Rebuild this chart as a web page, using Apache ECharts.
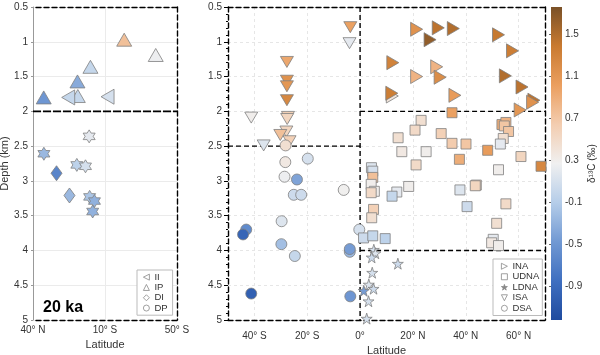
<!DOCTYPE html>
<html>
<head>
<meta charset="utf-8">
<script src="https://cdn.jsdelivr.net/npm/echarts@6.0.0/dist/echarts.min.js"></script>
<style>
  html, body { margin: 0; padding: 0; background: #fff; }
  #chart { width: 600px; height: 355px; }
</style>
</head>
<body>
<div id="chart"></div>
<script>
// each point: [latitude (N positive), depth km, d13C permil]
// left panel (intermediate / deep water masses)
const II = [[18.0, 1.80, 0.0], [-6.6, 1.79, 0.1]];
const IP = [[-17.0, 0.97, 0.75], [-36.7, 1.19, 0.25], [4.1, 1.36, 0.0], [12.2, 1.57, -0.35],
            [33.3, 1.80, -0.5], [12.0, 1.78, 0.0]];
const DI = [[25.3, 2.89, -0.65], [17.2, 3.21, -0.25]];
const DP = [[4.9, 2.36, 0.2], [33.2, 2.61, -0.25], [12.6, 2.77, -0.05], [7.2, 2.79, 0.1],
            [4.6, 3.23, -0.15], [1.6, 3.29, -0.3], [2.7, 3.44, -0.3]];

// right panel (Atlantic)
const INA = [[21.4, 0.82, 1.15], [29.6, 0.80, 1.45], [35.3, 0.81, 1.5], [26.5, 0.97, 1.65],
             [52.4, 0.90, 1.4], [57.7, 1.13, 1.35], [12.4, 1.30, 1.3], [29.0, 1.36, 0.85],
             [21.4, 1.50, 0.85], [30.3, 1.51, 1.2], [55.0, 1.49, 1.5], [61.3, 1.65, 1.45],
             [12.2, 1.78, 0.4], [12.0, 1.74, 1.35], [35.9, 1.77, 1.05], [65.8, 1.84, 1.45],
             [65.3, 1.87, 1.15], [60.6, 1.98, 1.1]];
const UDNA = [[34.8, 2.02, 1.0], [23.1, 2.13, 0.45], [20.8, 2.27, 0.5], [14.4, 2.38, 0.45],
              [30.7, 2.32, 0.6], [34.8, 2.46, 0.65], [40.1, 2.47, 0.7], [15.8, 2.58, 0.35],
              [25.0, 2.58, 0.3], [48.3, 2.56, 1.05], [37.6, 2.69, 0.9], [60.9, 2.65, 0.55],
              [21.2, 2.77, 0.5], [68.5, 2.79, 1.25], [52.4, 2.84, 0.3], [4.3, 2.81, 0.15],
              [4.8, 2.86, 0.1], [4.8, 2.95, 0.75], [4.2, 3.05, 0.3], [5.4, 3.15, 0.3],
              [4.2, 3.17, 0.5], [18.4, 3.08, 0.3], [13.9, 3.16, 0.2], [12.1, 3.22, 0.0],
              [5.1, 3.41, 0.6], [4.4, 3.53, 0.45], [1.3, 3.82, 0.05], [4.8, 3.79, 0.0],
              [9.5, 3.83, -0.05], [53.7, 2.19, 0.9], [55.2, 2.16, 0.85], [54.6, 2.21, 0.7],
              [56.2, 2.29, 0.7], [54.2, 2.39, 0.45], [53.1, 2.47, 0.2], [44.0, 3.06, 0.55],
              [43.6, 3.07, 0.55], [37.8, 3.13, 0.15], [40.5, 3.37, 0.05], [55.2, 3.33, 0.5],
              [51.7, 3.61, 0.45], [50.4, 3.84, 0.2], [49.8, 3.89, 0.35], [52.4, 3.93, 0.3]];
const LDNA = [[5.2, 3.99, 0.1], [5.8, 4.04, 0.15], [4.4, 4.10, 0.05], [14.3, 4.19, 0.05],
              [4.6, 4.32, 0.1], [3.3, 4.49, 0.15], [5.1, 4.55, 0.05], [1.4, 4.58, -0.45],
              [3.2, 4.73, 0.1], [2.5, 4.98, 0.1]];
const ISA = [[-3.7, 0.79, 1.0], [-4.0, 1.02, 0.2], [-27.7, 1.29, 0.95], [-27.7, 1.56, 1.15],
             [-27.7, 1.64, 1.1], [-27.7, 1.84, 1.25], [-41.2, 2.09, 0.3], [-27.3, 2.08, 0.6],
             [-27.6, 2.11, 0.55], [-27.9, 2.29, 0.55], [-30.2, 2.34, 0.75], [-26.7, 2.43, 0.6],
             [-36.5, 2.49, 0.15]];
const DSA = [[-28.2, 2.49, 0.45], [-28.3, 2.73, 0.35], [-19.8, 2.68, 0.1], [-28.6, 2.94, 0.25],
             [-23.9, 2.98, -0.4], [-25.1, 3.20, 0.05], [-22.3, 3.20, 0.05], [-29.7, 3.58, 0.15],
             [-43.1, 3.70, -0.6], [-44.3, 3.77, -0.95], [-29.8, 3.91, -0.2], [-24.7, 4.08, 0.0],
             [-41.2, 4.62, -1.0], [-3.7, 4.66, -0.5], [-3.9, 4.02, -0.25], [-3.9, 3.98, -0.45],
             [-6.2, 3.13, 0.28], [-0.3, 3.70, 0.1]];

// water mass boundaries
const leftBounds = [[[40, 2], [-50, 2]]];
const rightBounds = [[[0, 0.5], [0, 5]], [[-50, 2.5], [0, 2.5]], [[0, 2], [70, 2]], [[0, 4], [70, 4]]];

// axes
const leftXTicks = [40, -5, -50];
const leftXTickLabels = ['40° N', '10° S', '50° S'];
const rightXTicks = [-40, -20, 0, 20, 40, 60];
const cbTicks = [-0.9, -0.5, -0.1, 0.3, 0.7, 1.1, 1.5];
const cbMin = -1.22, cbMax = 1.76;
const cbColors = ['#1f4b9f', '#3f6fc0', '#7199d3', '#b5cde9', '#f0f0f0',
                  '#f3cdb0', '#eb9f5f', '#c97a30', '#7a5128'];

const font = 'Liberation Sans, Arial, sans-serif';
const txt = { color: '#333', fontSize: 10, fontFamily: font };
const nameTxt = { color: '#333', fontSize: 11, fontFamily: font };
const dash = { color: '#000', width: 1.4, type: [5, 3] };

const pentagram = 'path://M0,-1L0.2245,-0.309L0.951,-0.309L0.363,0.118L0.588,0.809L0,0.382L-0.588,0.809L-0.363,0.118L-0.951,-0.309L-0.2245,-0.309Z';
const hexagram = 'path://M0,-1L0.289,-0.5L0.866,-0.5L0.577,0L0.866,0.5L0.289,0.5L0,1L-0.289,0.5L-0.866,0.5L-0.577,0L-0.866,-0.5L-0.289,-0.5Z';
const triLeft = 'path://M0,0.5L1,0L1,1Z';
const triRight = 'path://M0,0L1,0.5L0,1Z';
const triDown = 'path://M0,0L1,0L0.5,1Z';

function pts(name, data, panel, symbol, size, rotate) {
  return {
    name, type: 'scatter', data,
    xAxisIndex: panel === 0 ? 0 : 2, yAxisIndex: panel === 0 ? 0 : 2,
    symbol, symbolSize: size, symbolRotate: rotate || 0,
    itemStyle: { borderColor: '#808080', borderWidth: 0.8, opacity: 1 },
    clip: false, z: 3, silent: true
  };
}
function bounds(list, panel, style) {
  return list.map(seg => ({
    type: 'line', data: seg, symbol: 'none', silent: true, z: 2,
    xAxisIndex: panel === 0 ? 0 : 2, yAxisIndex: panel === 0 ? 0 : 2,
    lineStyle: style
  }));
}

const markerSeries = [
  pts('IP', IP, 0, 'triangle', [15, 13]),
  pts('II', II, 0, 'triangle', [15, 13], 90),
  pts('DI', DI, 0, 'diamond', [11, 15]),
  pts('DP', DP, 0, hexagram, [12, 13]),
  pts('ISA', ISA, 1, 'triangle', [13, 11], 180),
  pts('DSA', DSA, 1, 'circle', 11),
  pts('UDNA', UDNA, 1, 'rect', 10),
  pts('INA', INA, 1, 'triangle', [14, 12], -90),
  pts('LDNA', LDNA, 1, pentagram, 11)
];

const frameAxis = (grid, pos) => ({
  gridIndex: grid, type: 'value', position: pos,
  min: -50, max: grid === 0 ? 40 : 70,
  axisLine: { show: true, onZero: false, lineStyle: dash },
  axisTick: { show: false }, axisLabel: { show: false }, splitLine: { show: false }
});

const legendBase = {
  orient: 'vertical', itemGap: 0, itemWidth: 6, itemHeight: 6,
  borderColor: '#bbb', borderWidth: 1, backgroundColor: '#fff',
  itemStyle: { color: '#fff', borderColor: '#888', borderWidth: 0.8 },
  selectedMode: false
};

const chart = echarts.init(document.getElementById('chart'), null, { renderer: 'canvas' });
chart.setOption({
  animation: false,
  backgroundColor: '#fff',
  title: { text: '20 ka', left: 43, top: 300, padding: 0,
           textStyle: { fontSize: 16, fontWeight: 'bold', color: '#000', fontFamily: font } },
  grid: [
    { left: 33, top: 7, width: 144, height: 313, outerBoundsMode: 'none', containLabel: false },
    { left: 228, top: 7, width: 317, height: 313, outerBoundsMode: 'none', containLabel: false },
    { left: 551, top: 7, width: 11, height: 313, outerBoundsMode: 'none', containLabel: false,
      show: true, borderWidth: 0,
      backgroundColor: new echarts.graphic.LinearGradient(0, 0, 0, 1,
        cbColors.slice().reverse().map((c, i) => ({ offset: i / (cbColors.length - 1), color: c }))) }
  ],
  xAxis: [
    { gridIndex: 0, type: 'value', min: -50, max: 40, inverse: true, position: 'bottom',
      axisLine: { show: true, onZero: false, lineStyle: dash },
      axisTick: { show: false, customValues: leftXTicks },
      axisLabel: { customValues: leftXTicks, margin: 5, ...txt,
                   formatter: v => leftXTickLabels[leftXTicks.indexOf(v)] },
      splitLine: { show: true, lineStyle: { color: '#ebebeb', width: 1 } },
      name: 'Latitude', nameLocation: 'middle', nameGap: 16, nameTextStyle: nameTxt },
    Object.assign(frameAxis(0, 'top'), { inverse: true }),
    { gridIndex: 1, type: 'value', min: -50, max: 70, position: 'bottom',
      axisLine: { show: true, onZero: false, lineStyle: dash },
      axisTick: { show: false, customValues: rightXTicks },
      axisLabel: { customValues: rightXTicks, margin: 11, ...txt,
                   formatter: v => v === 0 ? '0°' : (v < 0 ? `${-v}° S` : `${v}° N`) },
      splitLine: { show: true, lineStyle: { color: '#e6e6e6', width: 1, type: [3, 3] } },
      name: 'Latitude', nameLocation: 'middle', nameGap: 23, nameTextStyle: nameTxt },
    frameAxis(1, 'top'),
    { gridIndex: 2, type: 'value', min: 0, max: 1, show: false }
  ],
  yAxis: [
    { gridIndex: 0, type: 'value', min: 0.5, max: 5, interval: 0.5, inverse: true,
      axisLine: { show: true, onZero: false, lineStyle: { color: '#999', width: 1 } },
      axisTick: { show: true, length: 2, lineStyle: { color: '#999' } },
      axisLabel: { margin: 5, ...txt },
      splitLine: { show: true, lineStyle: { color: '#ebebeb', width: 1 } },
      name: 'Depth (km)', nameLocation: 'middle', nameRotate: 90, nameGap: 21,
      nameTextStyle: nameTxt },
    { gridIndex: 0, type: 'value', position: 'right', min: 0.5, max: 5, inverse: true,
      axisLine: { show: true, onZero: false, lineStyle: dash },
      axisTick: { show: false }, axisLabel: { show: false }, splitLine: { show: false } },
    { gridIndex: 1, type: 'value', min: 0.5, max: 5, interval: 0.5, inverse: true,
      axisLine: { show: true, onZero: false, lineStyle: dash },
      axisTick: { show: true, length: 4, lineStyle: { color: '#000' } },
      minorTick: { show: true, splitNumber: 5, length: 2, lineStyle: { color: '#000' } },
      axisLabel: { margin: 6, ...txt },
      splitLine: { show: true, lineStyle: { color: '#e6e6e6', width: 1, type: [3, 3] } } },
    { gridIndex: 1, type: 'value', position: 'right', min: 0.5, max: 5, inverse: true,
      axisLine: { show: true, onZero: false, lineStyle: dash },
      axisTick: { show: false }, axisLabel: { show: false }, splitLine: { show: false } },
    { gridIndex: 2, type: 'value', position: 'right', min: cbMin, max: cbMax,
      axisLine: { show: false },
      axisTick: { show: true, inside: true, length: 2, customValues: cbTicks, lineStyle: { color: '#666' } },
      axisLabel: { customValues: cbTicks, margin: 3, ...txt },
      splitLine: { show: false },
      name: 'δ¹³C (‰)', nameLocation: 'middle', nameRotate: 90, nameGap: 25,
      nameTextStyle: { ...txt, fontSize: 10 } }
  ],
  visualMap: {
    type: 'continuous', show: false, min: cbMin, max: cbMax, dimension: 2,
    seriesIndex: markerSeries.map((s, i) => i),
    inRange: { color: cbColors }
  },
  legend: [
    Object.assign({}, legendBase, {
      data: [{ name: 'II', icon: triLeft }, { name: 'IP', icon: 'triangle' },
             { name: 'DI', icon: 'diamond' }, { name: 'DP', icon: 'circle' }],
      left: 137, top: 270, padding: [2, 5, 2, 6],
      textStyle: { ...txt, fontSize: 9.5, lineHeight: 10.3 } }),
    Object.assign({}, legendBase, {
      data: [{ name: 'INA', icon: triRight }, { name: 'UDNA', icon: 'rect' },
             { name: 'LDNA', icon: pentagram, itemStyle: { color: '#888' } },
             { name: 'ISA', icon: triDown }, { name: 'DSA', icon: 'circle' }],
      left: 493, top: 259, padding: [2, 3, 2, 8],
      textStyle: { ...txt, fontSize: 9.5, lineHeight: 10.5 } })
  ],
  series: [
    ...markerSeries,
    ...bounds(leftBounds, 0, { color: '#000', width: 1.6, type: [8, 2] }),
    ...bounds(rightBounds, 1, dash)
  ]
});
</script>
</body>
</html>
